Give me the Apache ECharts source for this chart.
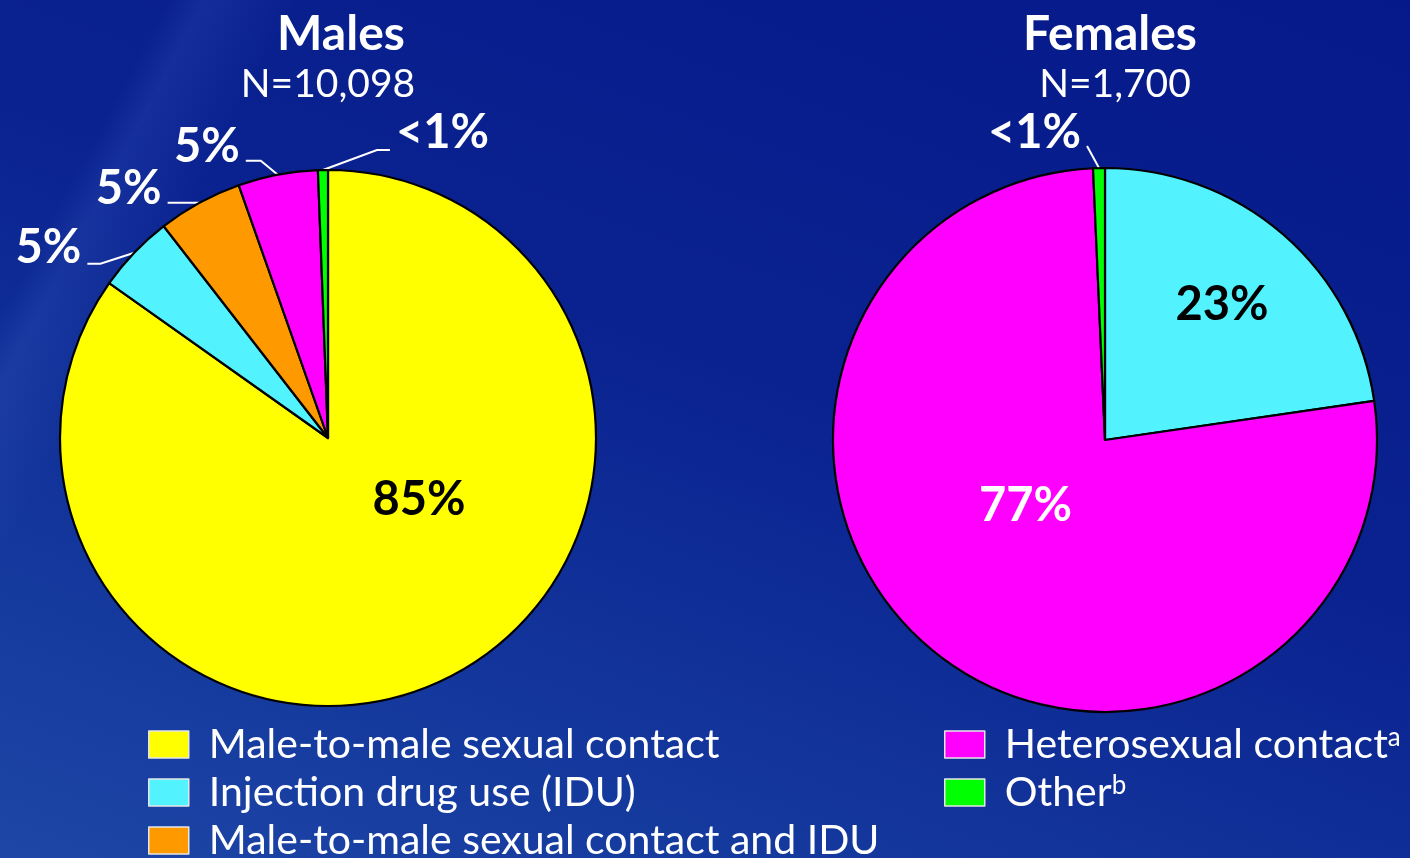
<!DOCTYPE html>
<html>
<head>
<meta charset="utf-8">
<script src="https://cdn.jsdelivr.net/npm/echarts@6/dist/echarts.min.js"></script>
<style>
  html, body { margin: 0; padding: 0; }
  #chart {
    width: 1410px; height: 858px;
    background:
      linear-gradient(118deg, rgba(255,255,255,0) 0%, rgba(255,255,255,0) 9%, rgba(120,160,255,0.10) 11%, rgba(255,255,255,0) 16%, rgba(255,255,255,0) 100%),
      linear-gradient(200deg, #06198a 0%, #0a2290 45%, #153a9e 80%, #1d46a6 100%);
  }
</style>
</head>
<body>
<div id="chart"></div>
<script>
// categories in clockwise order for the male pie
var categories = [
  'Male-to-male sexual contact',
  'Injection drug use (IDU)',
  'Male-to-male sexual contact and IDU',
  'Heterosexual contact',
  'Other'
]
var maleValues = [84.8, 4.7, 5.1, 4.8, 0.6]

var femaleCategories = ['Injection drug use (IDU)', 'Heterosexual contact', 'Other']
var femaleValues = [22.7, 76.6, 0.7]

var titles = ['Males', 'Females']
var subtitles = ['N=10,098', 'N=1,700']
var footnotes = { 'Heterosexual contact': 'a', 'Other': 'b' }

var colors = {
  'Male-to-male sexual contact': '#ffff00',
  'Injection drug use (IDU)': '#52f2ff',
  'Male-to-male sexual contact and IDU': '#ff9900',
  'Heterosexual contact': '#ff00ff',
  'Other': '#00ff00'
}

var FONT = 'Lato'

// label placement per slice (styling only, not data)
var maleGuides = [
  { inside: [28, -60], color: '#000' },
  { bend: [-34, 11], run: -13, side: 'left', lift: 16 },
  { bend: [0, 0], run: -32, side: 'left', lift: 14 },
  { bend: [-17, -14], run: -15, side: 'left', lift: 14 },
  { bend: [54, -20], run: 13, side: 'right', lift: 17 }
]
var femaleGuides = [
  { inside: [26, -30], color: '#000' },
  { inside: [9, -41], color: '#fff' },
  { bend: [-12, -22], run: 0, side: 'left', lift: 13 }
]

function pct(v) {
  return v < 1 ? '<1%' : Math.round(v) + '%'
}

function buildData(names, values, guides) {
  return names.map(function (n, i) {
    var g = guides[i]
    var item = { name: n, value: values[i], itemStyle: { color: colors[n] } }
    if (g.inside) {
      item.label = { position: 'inside', color: g.color }
      item.labelLine = { show: false }
    }
    return item
  })
}

function guideLayout(guides) {
  return function (p) {
    var g = guides[p.dataIndex]
    if (!g) return {}
    if (g.inside) return { dx: g.inside[0], dy: g.inside[1] }
    if (!p.labelLinePoints) return {}
    var p0 = p.labelLinePoints[0]
    var p1 = [p0[0] + g.bend[0], p0[1] + g.bend[1]]
    var p2 = [p1[0] + g.run, p1[1]]
    var left = g.side === 'left'
    return {
      x: p2[0] + (left ? -6 : 6),
      y: p2[1] - g.lift,
      align: left ? 'right' : 'left',
      verticalAlign: 'middle',
      labelLinePoints: [p0, p1, p2]
    }
  }
}

function pieSeries(name, center, radius, names, values, guides) {
  return {
    name: name,
    type: 'pie',
    center: center,
    radius: radius,
    startAngle: 90,
    clockwise: true,
    avoidLabelOverlap: false,
    silent: true,
    emphasis: { disabled: true },
    itemStyle: { borderColor: '#000', borderWidth: 2.2 },
    label: {
      show: true,
      position: 'outside',
      formatter: function (p) { return pct(p.value) },
      color: '#fff',
      fontFamily: FONT,
      fontWeight: 'bold',
      fontSize: 47
    },
    labelLine: {
      show: true,
      length: 10,
      length2: 10,
      lineStyle: { color: '#fff', width: 2 }
    },
    labelLayout: guideLayout(guides),
    data: buildData(names, values, guides)
  }
}

function legendFormatter(name) {
  return footnotes[name] ? name + '{sup|' + footnotes[name] + '}' : name
}

function legendBlock(names, left) {
  return {
    data: names,
    left: left,
    top: 724,
    height: 200,
    padding: 0,
    orient: 'vertical',
    icon: 'rect',
    itemWidth: 40,
    itemHeight: 27,
    itemGap: 7,
    selectedMode: false,
    itemStyle: { borderColor: '#e6e6e6', borderWidth: 1.5 },
    formatter: legendFormatter,
    textStyle: {
      color: '#fff',
      fontFamily: FONT,
      fontSize: 41,
      lineHeight: 40,
      padding: [0, 0, 0, 15],
      rich: {
        sup: { fontSize: 26, verticalAlign: 'top', lineHeight: 30, color: '#fff', fontFamily: FONT }
      }
    }
  }
}

var chart = echarts.init(document.getElementById('chart'))

chart.setOption({
  animation: false,
  title: [
    { text: titles[0], left: 336, top: 6, textAlign: 'center',
      textStyle: { color: '#fff', fontFamily: FONT, fontWeight: 'bold', fontSize: 48 } },
    { text: subtitles[0], left: 323, top: 60, textAlign: 'center',
      textStyle: { color: '#fff', fontFamily: FONT, fontWeight: 'normal', fontSize: 39 } },
    { text: titles[1], left: 1105, top: 6, textAlign: 'center',
      textStyle: { color: '#fff', fontFamily: FONT, fontWeight: 'bold', fontSize: 48 } },
    { text: subtitles[1], left: 1110, top: 60, textAlign: 'center',
      textStyle: { color: '#fff', fontFamily: FONT, fontWeight: 'normal', fontSize: 39 } }
  ],
  legend: [
    legendBlock(categories.slice(0, 3), 148),
    legendBlock(categories.slice(3), 944)
  ],
  series: [
    pieSeries('Males', [328, 438], 268, categories, maleValues, maleGuides),
    pieSeries('Females', [1105, 440], 272, femaleCategories, femaleValues, femaleGuides)
  ]
})
</script>
</body>
</html>
